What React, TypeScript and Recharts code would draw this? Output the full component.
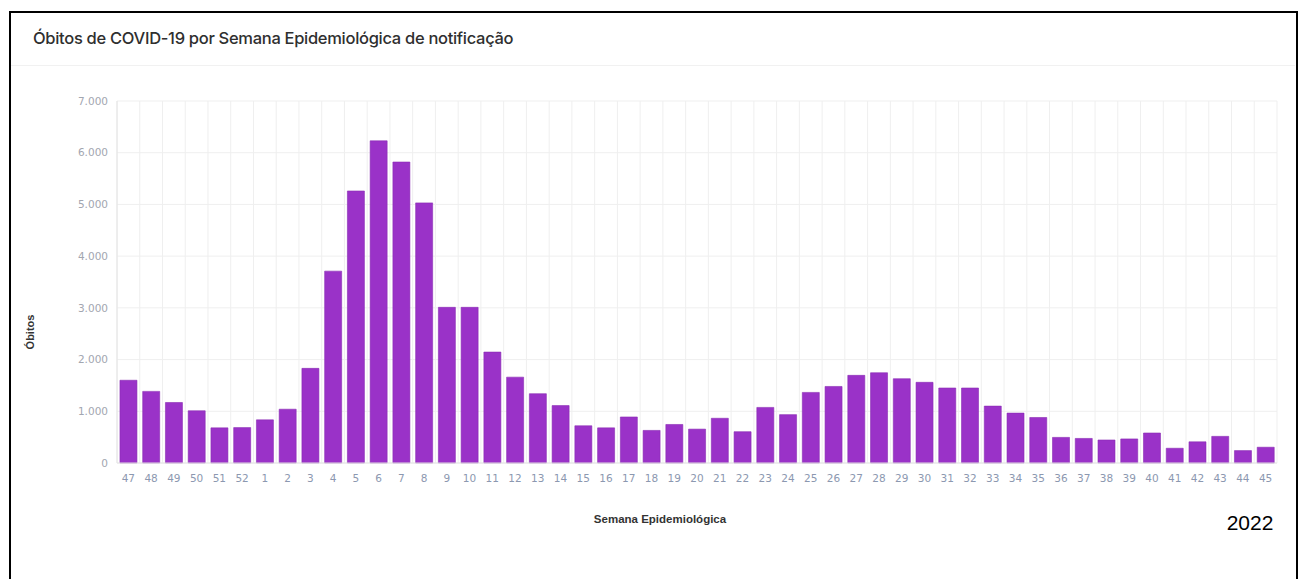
import { BarChart, Bar, XAxis, YAxis, CartesianGrid } from "recharts";

const semanas = [
  "47", "48", "49", "50", "51", "52",
  "1", "2", "3", "4", "5", "6", "7", "8", "9", "10",
  "11", "12", "13", "14", "15", "16", "17", "18", "19", "20",
  "21", "22", "23", "24", "25", "26", "27", "28", "29", "30",
  "31", "32", "33", "34", "35", "36", "37", "38", "39", "40",
  "41", "42", "43", "44", "45",
];

const obitos = [
  1600, 1385, 1170, 1010, 680, 685,
  835, 1040, 1830, 3710, 5260, 6230, 5820, 5030, 3010, 3010,
  2145, 1660, 1340, 1110, 720, 680, 890, 630, 745, 655,
  865, 605, 1075, 935, 1365, 1480, 1695, 1745, 1630, 1560,
  1450, 1450, 1100, 965, 880, 495, 475, 445, 465, 580,
  285, 410, 515, 240, 305,
];

const yTicks = [0, 1000, 2000, 3000, 4000, 5000, 6000, 7000];

const dados = semanas.map((s, i) => ({ semana: s, obitos: obitos[i] }));

// separador de milhar no padrão brasileiro
function fmt(v: number) {
  return String(v).replace(/\B(?=(\d{3})+(?!\d))/g, ".");
}

const FONT = "'DejaVu Sans', sans-serif";

export default function App() {
  return (
    <div style={{ position: "absolute", left: 0, top: 0, width: 1298, height: 579, background: "#fff", overflow: "hidden" }}>
      {/* moldura */}
      <div style={{ position: "absolute", left: 9, top: 11, width: 1285, height: 600, border: "2px solid #000" }} />
      <div style={{ position: "absolute", left: 11, top: 65, width: 1284, height: 1, background: "#f1f1f1" }} />

      <div
        style={{
          position: "absolute", left: 33, top: 28, fontFamily: "Inter, sans-serif",
          fontSize: 16.5, fontWeight: 500, color: "#2f2f2f", letterSpacing: -0.3, whiteSpace: "nowrap",
        }}
      >
        Óbitos de COVID-19 por Semana Epidemiológica de notificação
      </div>

      <div style={{ position: "absolute", left: 0, top: 0 }}>
        <BarChart width={1298} height={579} data={dados} margin={{ top: 101, right: 21, bottom: 86, left: 0 }} barCategoryGap="13%">
          <CartesianGrid
            stroke="#efefef"
            verticalCoordinatesGenerator={({ offset }: any) =>
              Array.from({ length: semanas.length + 1 }, (_, i) => offset.left + (i * offset.width) / semanas.length)
            }
          />
          <XAxis
            dataKey="semana"
            interval={0}
            tickLine={false}
            tickSize={0}
            tickMargin={12}
            height={30}
            axisLine={{ stroke: "#e4e4e4" }}
            tick={{ fontSize: 10.5, fill: "#8c98b0", fontFamily: FONT }}
          />
          <YAxis
            width={117}
            ticks={yTicks}
            domain={[0, 7000]}
            tickFormatter={fmt}
            tickLine={false}
            tickSize={0}
            tickMargin={9}
            axisLine={{ stroke: "#e4e4e4" }}
            tick={{ fontSize: 10.5, fill: "#a2a6b0", fontFamily: FONT }}
          />
          <Bar dataKey="obitos" fill="#9a32c8" stroke="#8a2cb4" strokeWidth={0.6} isAnimationActive={false} />
        </BarChart>
      </div>

      <div
        style={{
          position: "absolute", left: 30, top: 332, transform: "translate(-50%, -50%) rotate(-90deg)",
          fontFamily: "'Liberation Sans', sans-serif", fontSize: 11, fontWeight: 700, color: "#333", whiteSpace: "nowrap",
        }}
      >
        Óbitos
      </div>

      <div
        style={{
          position: "absolute", left: 660, top: 519, transform: "translate(-50%, -50%)",
          fontFamily: "'Liberation Sans', sans-serif", fontSize: 11.5, fontWeight: 700, color: "#333", whiteSpace: "nowrap",
        }}
      >
        Semana Epidemiológica
      </div>

      <div
        style={{
          position: "absolute", left: 1250, top: 523, transform: "translate(-50%, -50%)",
          fontFamily: "'Liberation Sans', sans-serif", fontSize: 21, color: "#000", whiteSpace: "nowrap",
        }}
      >
        2022
      </div>
    </div>
  );
}
